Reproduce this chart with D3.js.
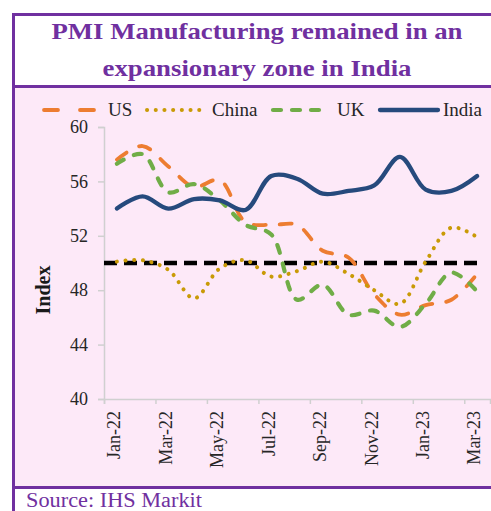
<html>
<head>
<script src="https://d3js.org/d3.v7.min.js"></script>
<style>
  body { margin: 0; background: #fff; }
  text { font-family: "Liberation Serif", "Times New Roman", serif; }
</style>
</head>
<body>
<svg width="491" height="511"></svg>
<script>
// data
var months = ["Jan-22","Feb-22","Mar-22","Apr-22","May-22","Jun-22","Jul-22","Aug-22",
              "Sep-22","Oct-22","Nov-22","Dec-22","Jan-23","Feb-23","Mar-23"];
var us    = [57.6, 58.6, 57.1, 55.6, 56.1, 53.0, 52.8, 52.8, 50.9, 50.4, 47.7, 46.2, 46.9, 47.3, 49.2];
var china = [50.1, 50.2, 49.5, 47.4, 49.6, 50.2, 49.0, 49.4, 50.1, 49.2, 48.0, 47.0, 50.1, 52.6, 51.9];
var uk    = [57.3, 58.0, 55.2, 55.8, 54.6, 52.8, 52.1, 47.3, 48.4, 46.2, 46.5, 45.3, 47.0, 49.3, 47.9];
var india = [54.0, 54.9, 54.0, 54.7, 54.6, 53.9, 56.4, 56.2, 55.1, 55.3, 55.7, 57.8, 55.4, 55.3, 56.4];
var threshold = 50;
var yTicks = [40, 44, 48, 52, 56, 60];
var xLabels = ["Jan-22","Mar-22","May-22","Jul-22","Sep-22","Nov-22","Jan-23","Mar-23"];

var purple = "#7030a0";
var svg = d3.select("svg");

// frame and backgrounds
svg.append("rect").attr("x", 15).attr("y", 88).attr("width", 480).attr("height", 398)
   .attr("fill", "#fde9f8");
svg.append("rect").attr("x", 13.5).attr("y", 14.5).attr("width", 490).attr("height", 510)
   .attr("fill", "none").attr("stroke", purple).attr("stroke-width", 3);
svg.append("line").attr("x1", 13).attr("x2", 491).attr("y1", 86.5).attr("y2", 86.5)
   .attr("stroke", purple).attr("stroke-width", 3);
svg.append("line").attr("x1", 13).attr("x2", 491).attr("y1", 487.5).attr("y2", 487.5)
   .attr("stroke", purple).attr("stroke-width", 3);

// title
svg.append("text").attr("x", 257).attr("y", 39).attr("text-anchor", "middle")
   .attr("font-size", 24).attr("font-weight", "bold").attr("fill", purple)
   .attr("textLength", 411).attr("lengthAdjust", "spacingAndGlyphs")
   .text("PMI Manufacturing remained in an");
svg.append("text").attr("x", 257).attr("y", 76).attr("text-anchor", "middle")
   .attr("font-size", 24).attr("font-weight", "bold").attr("fill", purple)
   .attr("textLength", 309).attr("lengthAdjust", "spacingAndGlyphs")
   .text("expansionary zone in India");

// source
svg.append("text").attr("x", 26).attr("y", 507)
   .attr("font-size", 20).attr("fill", purple)
   .attr("textLength", 176).attr("lengthAdjust", "spacingAndGlyphs")
   .text("Source: IHS Markit");

// scales
var x = d3.scaleBand().domain(months).range([104, 490]).padding(0);
var xIdx = d3.scaleLinear().domain([0, months.length]).range([104, 490]);
var y = d3.scaleLinear().domain([40, 60]).range([399, 127]);
var cx = function(m) { return x(m) + x.bandwidth() / 2; };

// y axis
var yAxis = svg.append("g").attr("transform", "translate(104,0)")
   .call(d3.axisLeft(y).tickValues(yTicks).tickSize(6).tickPadding(10));
yAxis.selectAll("path, line").attr("stroke", "#d0d0d0").attr("stroke-width", 1.5);
yAxis.selectAll("text").attr("font-size", 18).attr("fill", "#262626")
   .style("font-family", "'Liberation Serif', serif");

// x axis ticks at category borders, every 2 months
var xAxis = svg.append("g").attr("transform", "translate(0,399)")
   .call(d3.axisBottom(xIdx).tickValues(d3.range(0, months.length + 1, 2))
   .tickSize(5).tickFormat(""));
xAxis.selectAll("path, line").attr("stroke", "#d0d0d0").attr("stroke-width", 1.5);

// x labels, rotated
svg.append("g").selectAll("text").data(xLabels).enter().append("text")
   .attr("transform", function(d) { return "translate(" + (cx(d) - 3) + ",411) rotate(-90)"; })
   .attr("dy", "0.35em").attr("text-anchor", "end")
   .attr("font-size", 18).attr("fill", "#262626")
   .text(function(d) { return d; });

// axis title
svg.append("text").attr("transform", "translate(43,290) rotate(-90)")
   .attr("dy", "0.35em").attr("text-anchor", "middle")
   .attr("font-size", 20).attr("font-weight", "bold").attr("fill", "#1a1a1a")
   .text("Index");

// threshold line
svg.append("line").attr("x1", 104).attr("x2", cx(months[months.length - 1]))
   .attr("y1", y(threshold)).attr("y2", y(threshold))
   .attr("stroke", "#000").attr("stroke-width", 4.5).attr("stroke-dasharray", "13,7");

var line = d3.line()
   .x(function(d, i) { return cx(months[i]); })
   .y(function(d) { return y(d); })
   .curve(d3.curveCatmullRom.alpha(0.5));

var series = [
  { name: "US", values: us, color: "#ed7d31", width: 3.8, dash: "12,14", cap: "round" },
  { name: "China", values: china, color: "#c99a06", width: 4, dash: "0.1,8.6", cap: "round" },
  { name: "UK", values: uk, color: "#70ad47", width: 4.2, dash: "8,11", cap: "round" },
  { name: "India", values: india, color: "#264a7d", width: 4.3, dash: null, cap: "round" }
];

series.forEach(function(s) {
  svg.append("path").datum(s.values)
     .attr("d", line).attr("fill", "none")
     .attr("stroke", s.color).attr("stroke-width", s.width)
     .attr("stroke-linecap", s.cap).attr("stroke-linejoin", "round")
     .attr("stroke-dasharray", s.dash);
});

// legend
var legendPos = [
  { x1: 44, x2: 98, tx: 108 },
  { x1: 147, x2: 202, tx: 212 },
  { x1: 273, x2: 325, tx: 337 },
  { x1: 380, x2: 438, tx: 443 }
];
series.forEach(function(s, i) {
  var p = legendPos[i];
  svg.append("line").attr("x1", p.x1).attr("x2", p.x2).attr("y1", 110).attr("y2", 110)
     .attr("stroke", s.color).attr("stroke-width", s.width)
     .attr("stroke-linecap", s.cap).attr("stroke-dasharray", s.name === "US" ? "14,22" : s.dash);
  svg.append("text").attr("x", p.tx).attr("y", 116)
     .attr("font-size", 19).attr("fill", "#262626")
     .text(s.name);
});
</script>
</body>
</html>
